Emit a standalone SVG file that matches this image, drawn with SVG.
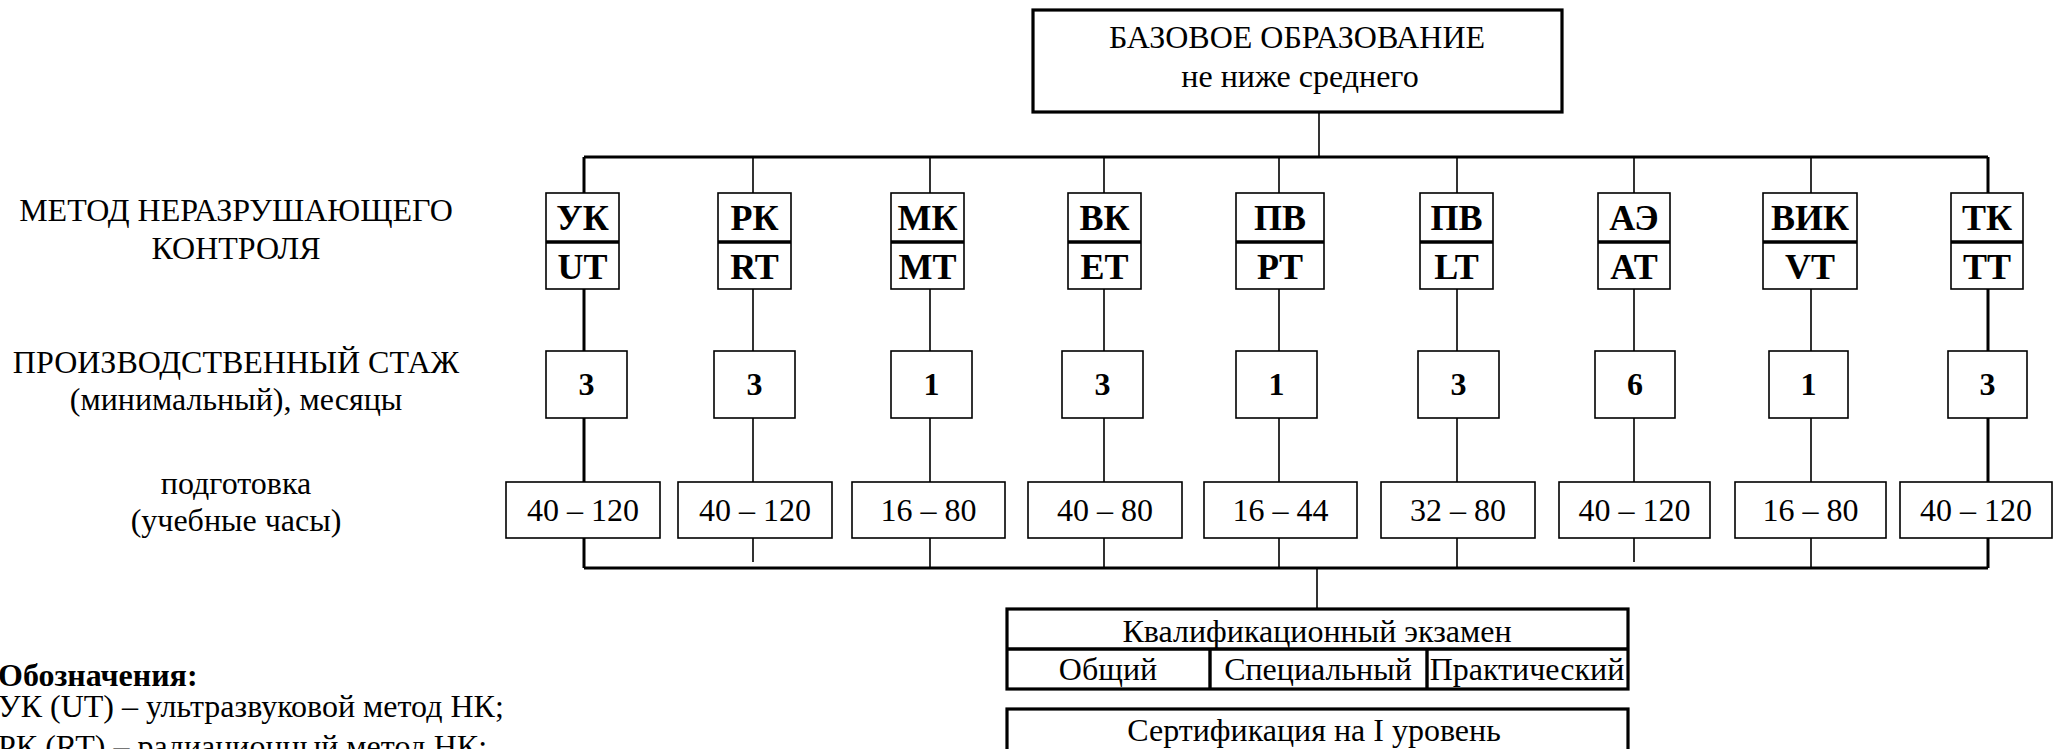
<svg xmlns="http://www.w3.org/2000/svg" width="2071" height="749" viewBox="0 0 2071 749">
<style>
text { font-family: "Liberation Serif", "Times New Roman", serif; fill: #000; font-size: 32px; }
.b { font-weight: bold; }
.bm { font-weight: bold; font-size: 36px; }
.m { text-anchor: middle; }
.box { fill: #fff; stroke: #000; stroke-width: 1.6; }
.tbox { fill: #fff; stroke: #000; stroke-width: 3.2; }
.ln { stroke: #000; stroke-width: 1.6; fill: none; }
.bus { stroke: #000; stroke-width: 3; fill: none; }
.dv { stroke: #000; stroke-width: 3.4; }
</style>
<rect width="2071" height="749" fill="#fff"/>

<g id="connectors">
  <path class="ln" d="M1319 112 V157"/>
  <path class="bus" d="M584 157 H1988 M584 568 H1988 M584 157 V568 M1988 157 V568"/>
  <path class="ln" d="M753 157 V562 M930 157 V568 M1104 157 V568 M1279 157 V568 M1457 157 V568 M1634 157 V562 M1811 157 V568"/>
  <path class="ln" d="M1317 568 V609"/>
</g>

<g id="row-labels">
  <text class="m" x="236" y="221">МЕТОД НЕРАЗРУШАЮЩЕГО</text>
  <text class="m" x="236" y="259">КОНТРОЛЯ</text>
  <text class="m" x="236" y="373">ПРОИЗВОДСТВЕННЫЙ СТАЖ</text>
  <text class="m" x="236" y="410">(минимальный), месяцы</text>
  <text class="m" x="236" y="494">подготовка</text>
  <text class="m" x="236" y="531">(учебные часы)</text>
</g>

<g id="base-education">
  <rect class="tbox" x="1033" y="10" width="529" height="102"/>
  <text class="m" x="1297" y="48">БАЗОВОЕ ОБРАЗОВАНИЕ</text>
  <text class="m" x="1300" y="87">не ниже среднего</text>
</g>

<g id="m-ut"><rect class="box" x="546" y="193" width="73" height="96"/><line class="dv" x1="546" y1="242" x2="619" y2="242"/><text class="bm m" x="582.5" y="230">УК</text><text class="bm m" x="582.5" y="279">UT</text></g>
<g id="m-rt"><rect class="box" x="718" y="193" width="73" height="96"/><line class="dv" x1="718" y1="242" x2="791" y2="242"/><text class="bm m" x="754.5" y="230">РК</text><text class="bm m" x="754.5" y="279">RT</text></g>
<g id="m-mt"><rect class="box" x="891" y="193" width="73" height="96"/><line class="dv" x1="891" y1="242" x2="964" y2="242"/><text class="bm m" x="927.5" y="230">МК</text><text class="bm m" x="927.5" y="279">MT</text></g>
<g id="m-et"><rect class="box" x="1068" y="193" width="73" height="96"/><line class="dv" x1="1068" y1="242" x2="1141" y2="242"/><text class="bm m" x="1104.5" y="230">ВК</text><text class="bm m" x="1104.5" y="279">ET</text></g>
<g id="m-pt"><rect class="box" x="1236" y="193" width="88" height="96"/><line class="dv" x1="1236" y1="242" x2="1324" y2="242"/><text class="bm m" x="1280" y="230">ПВ</text><text class="bm m" x="1280" y="279">PT</text></g>
<g id="m-lt"><rect class="box" x="1420" y="193" width="73" height="96"/><line class="dv" x1="1420" y1="242" x2="1493" y2="242"/><text class="bm m" x="1456.5" y="230">ПВ</text><text class="bm m" x="1456.5" y="279">LT</text></g>
<g id="m-at"><rect class="box" x="1598" y="193" width="72" height="96"/><line class="dv" x1="1598" y1="242" x2="1670" y2="242"/><text class="bm m" x="1634" y="230">АЭ</text><text class="bm m" x="1634" y="279">AT</text></g>
<g id="m-vt"><rect class="box" x="1763" y="193" width="94" height="96"/><line class="dv" x1="1763" y1="242" x2="1857" y2="242"/><text class="bm m" x="1810" y="230">ВИК</text><text class="bm m" x="1810" y="279">VT</text></g>
<g id="m-tt"><rect class="box" x="1951" y="193" width="72" height="96"/><line class="dv" x1="1951" y1="242" x2="2023" y2="242"/><text class="bm m" x="1987" y="230">ТК</text><text class="bm m" x="1987" y="279">TT</text></g>

<g id="s-ut"><rect class="box" x="546" y="351" width="81" height="67"/><text class="b m" x="586.5" y="395">3</text></g>
<g id="s-rt"><rect class="box" x="714" y="351" width="81" height="67"/><text class="b m" x="754.5" y="395">3</text></g>
<g id="s-mt"><rect class="box" x="891" y="351" width="81" height="67"/><text class="b m" x="931.5" y="395">1</text></g>
<g id="s-et"><rect class="box" x="1062" y="351" width="81" height="67"/><text class="b m" x="1102.5" y="395">3</text></g>
<g id="s-pt"><rect class="box" x="1236" y="351" width="81" height="67"/><text class="b m" x="1276.5" y="395">1</text></g>
<g id="s-lt"><rect class="box" x="1418" y="351" width="81" height="67"/><text class="b m" x="1458.5" y="395">3</text></g>
<g id="s-at"><rect class="box" x="1595" y="351" width="80" height="67"/><text class="b m" x="1635" y="395">6</text></g>
<g id="s-vt"><rect class="box" x="1769" y="351" width="79" height="67"/><text class="b m" x="1808.5" y="395">1</text></g>
<g id="s-tt"><rect class="box" x="1948" y="351" width="79" height="67"/><text class="b m" x="1987.5" y="395">3</text></g>

<g id="h-ut"><rect class="box" x="506" y="482" width="154" height="56"/><text class="m" x="583" y="521">40 – 120</text></g>
<g id="h-rt"><rect class="box" x="678" y="482" width="154" height="56"/><text class="m" x="755" y="521">40 – 120</text></g>
<g id="h-mt"><rect class="box" x="852" y="482" width="153" height="56"/><text class="m" x="928.5" y="521">16 – 80</text></g>
<g id="h-et"><rect class="box" x="1028" y="482" width="154" height="56"/><text class="m" x="1105" y="521">40 – 80</text></g>
<g id="h-pt"><rect class="box" x="1204" y="482" width="153" height="56"/><text class="m" x="1280.5" y="521">16 – 44</text></g>
<g id="h-lt"><rect class="box" x="1381" y="482" width="154" height="56"/><text class="m" x="1458" y="521">32 – 80</text></g>
<g id="h-at"><rect class="box" x="1559" y="482" width="151" height="56"/><text class="m" x="1634.5" y="521">40 – 120</text></g>
<g id="h-vt"><rect class="box" x="1735" y="482" width="151" height="56"/><text class="m" x="1810.5" y="521">16 – 80</text></g>
<g id="h-tt"><rect class="box" x="1900" y="482" width="152" height="56"/><text class="m" x="1976" y="521">40 – 120</text></g>

<g id="exam">
  <rect class="tbox" x="1007" y="609" width="621" height="80"/>
  <line class="dv" x1="1007" y1="649" x2="1628" y2="649"/>
  <line class="dv" x1="1210" y1="649" x2="1210" y2="689"/>
  <line class="dv" x1="1427" y1="649" x2="1427" y2="689"/>
  <text class="m" x="1317" y="642">Квалификационный экзамен</text>
  <text class="m" x="1108" y="680">Общий</text>
  <text class="m" x="1318" y="680">Специальный</text>
  <text class="m" x="1527" y="680">Практический</text>
</g>

<g id="certification">
  <rect class="tbox" x="1007" y="709" width="621" height="60"/>
  <text class="m" x="1314" y="741">Сертификация на I уровень</text>
</g>

<g id="legend">
  <text class="b" x="-2" y="686">Обозначения:</text>
  <text x="-2" y="717">УК (UT) – ультразвуковой метод НК;</text>
  <text x="-2" y="757">РК (RT) – радиационный метод НК;</text>
</g>
</svg>
